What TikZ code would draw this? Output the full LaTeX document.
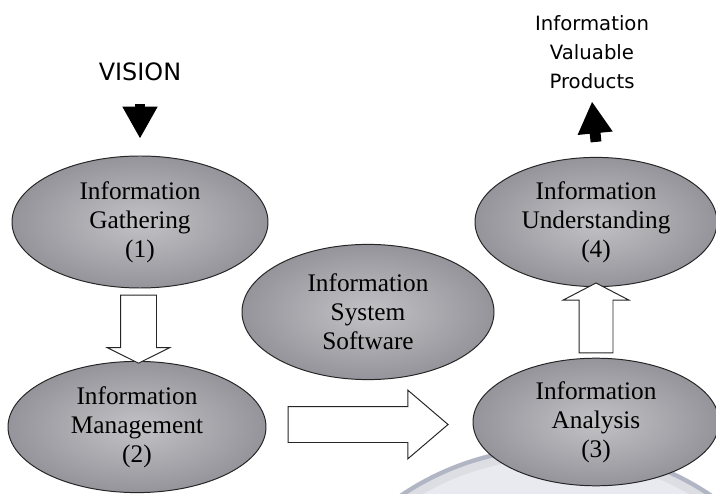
\documentclass[tikz,border=0pt]{standalone}
\usepackage{fontspec}
\setmainfont{Liberation Serif}
\newfontfamily\labelfont{DejaVu Sans}
\usetikzlibrary{shapes.geometric,shapes.arrows,arrows.meta,calc}

\definecolor{infolight}{RGB}{194,194,198}
\definecolor{infodark}{RGB}{148,148,154}
\definecolor{ringedge}{RGB}{178,182,196}
\definecolor{ringfill}{RGB}{232,234,240}

\tikzset{
  info/.style={ellipse,draw=black!85,line width=0.7pt,inner color=infolight,outer color=infodark,
    align=center,font=\fontsize{18}{20.5}\selectfont,minimum width=6.3cm,minimum height=3.3cm},
  hollow/.style={single arrow,draw=black!85,fill=white,line width=0.7pt,inner xsep=0pt,
    inner ysep=0.4375cm,single arrow head indent=0pt},
  solid/.style={line width=0.27cm,-{Triangle[length=0.8cm,width=0.82cm]}},
}

\begin{document}
\begin{tikzpicture}
\useasboundingbox (0,0) rectangle (17.9,12.325);
% soft ring behind the lower right
\begin{scope}
\clip (0,0) rectangle (17.9,12.325);
\fill[ringfill] (13.9,-5.8) circle (6.95cm);
\draw[ringedge!45,line width=9pt] (13.9,-5.8) circle (6.82cm);
\draw[ringedge,line width=3pt] (13.9,-5.8) circle (6.92cm);
\end{scope}

% the five stages
\node[info,minimum width=6.4cm] (gath) at (3.5,6.775) {Information\\Gathering\\(1)};
\node[info,minimum width=6.45cm,minimum height=3.28cm] (mgmt) at (3.425,1.65) {Information\\Management\\(2)};
\node[info,minimum width=6.3cm,minimum height=3.38cm] (sys) at (9.2,4.525) {Information\\System\\Software};
\node[info,minimum width=6.05cm,minimum height=3.23cm] (und) at (14.9,6.775) {Information\\Understanding\\(4)};
\node[info,minimum width=6.15cm,minimum height=3.15cm] (anal) at (14.9,1.775) {Information\\Analysis\\(3)};

% input and output
\node[font=\labelfont\fontsize{17}{20}\selectfont] (vision) at (3.5,10.525) {VISION};
\node[font=\labelfont\fontsize{14}{20.5}\selectfont,align=center] (products) at (14.8,11.025)
  {Information\\Valuable\\Products};

\draw[solid] ([yshift=-0.45cm]vision.south) -- ([yshift=0.42cm]gath.north);
\draw[solid] ([yshift=0.375cm]und.north) -- ([yshift=-0.2cm]products.south);

% flow between the stages
\node[hollow,rotate=-90,minimum height=1.7cm,
  single arrow head extend=0.325cm,single arrow tip angle=127] (down)
  at ($(gath.south)!0.5!(mgmt.north)$) {};
\node[hollow,minimum height=4cm,xshift=-0.3cm,
  single arrow head extend=0.41cm,single arrow tip angle=81] (right)
  at ($(mgmt.east)!0.5!(anal.west)$) {};
\node[hollow,rotate=90,minimum height=1.75cm,inner ysep=0.4125cm,
  single arrow head extend=0.4cm,single arrow tip angle=125] (up)
  at ($(anal.north)!0.5!(und.south)$) {};
\end{tikzpicture}
\end{document}
